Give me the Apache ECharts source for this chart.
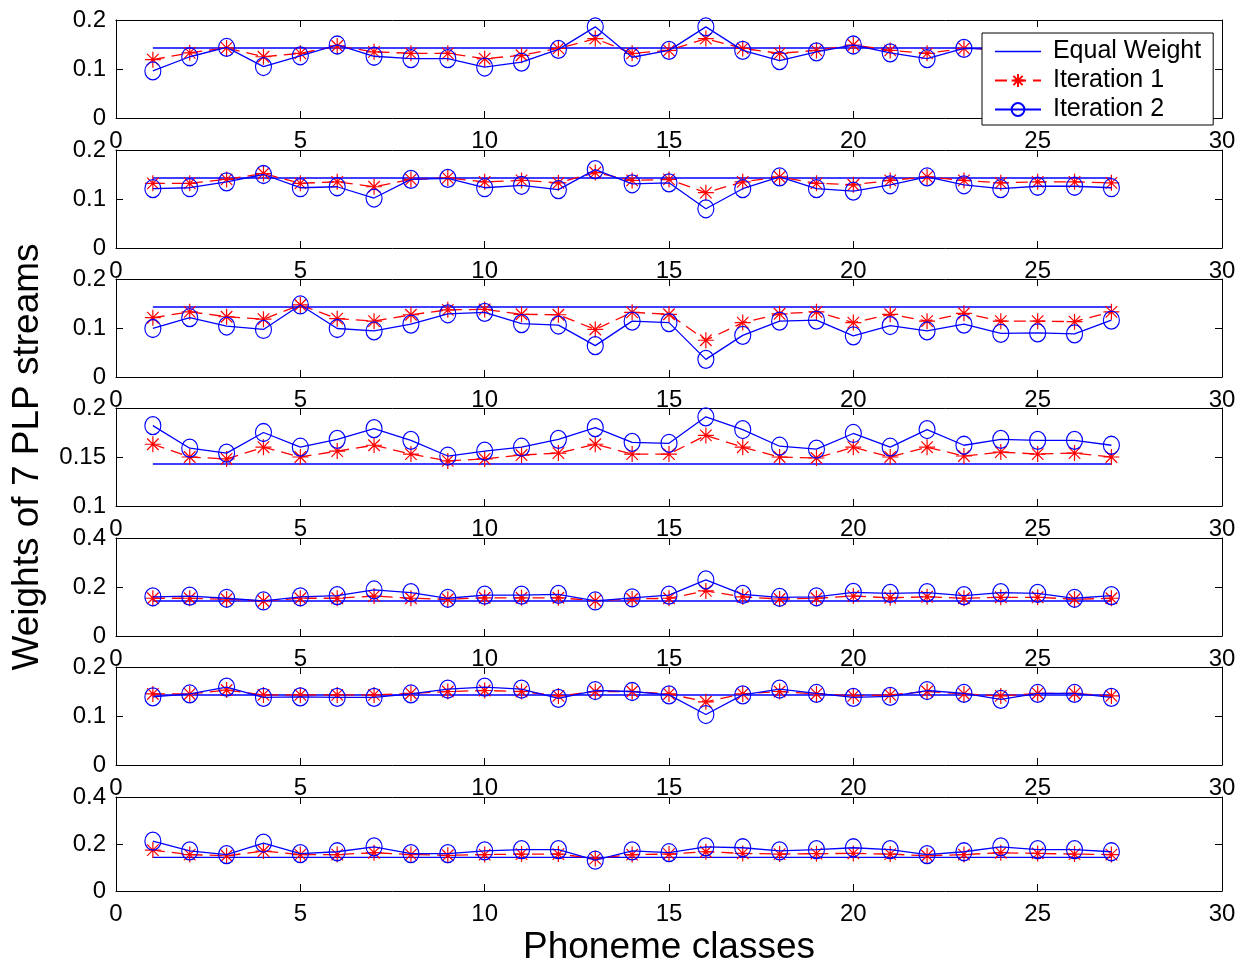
<!DOCTYPE html>
<html>
<head>
<meta charset="utf-8">
<script src="https://cdn.jsdelivr.net/npm/echarts@6/dist/echarts.min.js"></script>
<style>
html,body{margin:0;padding:0;background:#fff;}
#chart{width:1241px;height:967px;}
</style>
</head>
<body>
<div id="chart"></div>
<script>
// Phoneme classes (x values)
const classes = [1,2,3,4,5,6,7,8,9,10,11,12,13,14,15,16,17,18,19,20,21,22,23,24,25,26,27];
const equalWeight = 1/7;
const xTicks = [0,5,10,15,20,25,30];

// Iteration 1 weights, one array per PLP stream (subplot)
const iter1_s1 = [0.119,0.133,0.143,0.125,0.132,0.147,0.135,0.132,0.132,0.121,0.128,0.142,0.162,0.132,0.138,0.162,0.142,0.132,0.138,0.149,0.138,0.132,0.142,0.140,0.138,0.140,0.139];
const iter1_s2 = [0.132,0.132,0.140,0.152,0.132,0.135,0.125,0.140,0.143,0.135,0.138,0.133,0.154,0.138,0.140,0.113,0.135,0.145,0.132,0.129,0.138,0.145,0.138,0.133,0.135,0.135,0.133];
const iter1_s3 = [0.121,0.133,0.123,0.118,0.147,0.119,0.114,0.127,0.137,0.138,0.128,0.127,0.097,0.132,0.128,0.075,0.111,0.129,0.133,0.111,0.128,0.114,0.130,0.114,0.114,0.113,0.133];
const iter1_s4 = [0.163,0.150,0.148,0.160,0.150,0.156,0.162,0.153,0.146,0.148,0.152,0.154,0.163,0.153,0.153,0.172,0.160,0.150,0.149,0.160,0.150,0.160,0.151,0.155,0.153,0.154,0.150];
const iter1_s5 = [0.154,0.154,0.150,0.143,0.154,0.154,0.163,0.154,0.150,0.156,0.156,0.156,0.144,0.151,0.154,0.184,0.160,0.151,0.154,0.163,0.156,0.160,0.154,0.158,0.158,0.150,0.154];
const iter1_s6 = [0.145,0.145,0.153,0.143,0.143,0.143,0.143,0.146,0.150,0.152,0.150,0.141,0.150,0.150,0.145,0.129,0.145,0.150,0.145,0.141,0.143,0.150,0.145,0.141,0.146,0.146,0.141];
const iter1_s7 = [0.174,0.155,0.150,0.170,0.155,0.155,0.163,0.155,0.152,0.155,0.157,0.157,0.138,0.155,0.157,0.167,0.160,0.157,0.159,0.160,0.157,0.150,0.155,0.163,0.160,0.157,0.155];

// Iteration 2 weights
const iter2_s1 = [0.096,0.125,0.144,0.105,0.127,0.149,0.126,0.121,0.121,0.104,0.114,0.140,0.186,0.124,0.138,0.186,0.138,0.117,0.135,0.149,0.133,0.121,0.142,0.140,0.136,0.138,0.137];
const iter2_s2 = [0.121,0.123,0.135,0.150,0.123,0.125,0.102,0.140,0.142,0.123,0.128,0.119,0.160,0.131,0.133,0.080,0.121,0.145,0.121,0.116,0.129,0.145,0.129,0.121,0.126,0.126,0.123];
const iter2_s3 = [0.099,0.121,0.104,0.097,0.147,0.099,0.094,0.108,0.129,0.132,0.109,0.106,0.064,0.114,0.111,0.036,0.085,0.114,0.116,0.084,0.105,0.094,0.108,0.089,0.090,0.088,0.116];
const iter2_s4 = [0.182,0.159,0.154,0.175,0.160,0.168,0.179,0.167,0.151,0.156,0.160,0.168,0.180,0.165,0.164,0.191,0.178,0.161,0.158,0.174,0.160,0.178,0.162,0.168,0.167,0.167,0.162];
const iter2_s5 = [0.160,0.163,0.154,0.143,0.160,0.165,0.188,0.177,0.154,0.167,0.167,0.170,0.143,0.156,0.167,0.229,0.170,0.158,0.160,0.178,0.174,0.177,0.165,0.177,0.174,0.154,0.165];
const iter2_s6 = [0.139,0.145,0.159,0.138,0.139,0.138,0.138,0.145,0.155,0.159,0.155,0.136,0.152,0.150,0.143,0.103,0.143,0.155,0.146,0.138,0.140,0.152,0.146,0.134,0.146,0.146,0.138];
const iter2_s7 = [0.212,0.171,0.155,0.204,0.159,0.167,0.188,0.159,0.159,0.171,0.176,0.176,0.131,0.171,0.163,0.188,0.184,0.171,0.176,0.184,0.176,0.155,0.167,0.188,0.176,0.176,0.167];

// y-axis ranges per subplot [min, max, interval]
const yRanges = [[0,0.2,0.1],[0,0.2,0.1],[0,0.2,0.1],[0.1,0.2,0.05],[0,0.4,0.2],[0,0.2,0.1],[0,0.4,0.2]];

const iter1 = [iter1_s1,iter1_s2,iter1_s3,iter1_s4,iter1_s5,iter1_s6,iter1_s7];
const iter2 = [iter2_s1,iter2_s2,iter2_s3,iter2_s4,iter2_s5,iter2_s6,iter2_s7];

const FONT = '"Liberation Sans", Arial, Helvetica, sans-serif';
const BLUE = '#0000ff', RED = '#ff0000';
const STAR = 'path://M0,-1L0,1M-1,0L1,0M-0.72,-0.72L0.72,0.72M-0.72,0.72L0.72,-0.72';
const LINE_ICON = 'path://M0,0H46V1.4H0Z';

const tops = [20,150,279,408,538,667,797];
const H = 98;

const grids = [], xAxes = [], yAxes = [], series = [];
tops.forEach((t, i) => {
  grids.push({left:116, right:19, top:t, height:H, containLabel:false});
  const isLast = i === tops.length - 1;
  xAxes.push({
    type:'value', gridIndex:i, position:'bottom', min:0, max:30, interval:5,
    axisLine:{show:true, onZero:false, lineStyle:{color:'#000', width:1}},
    axisTick:{show:true, inside:true, length:7, lineStyle:{color:'#000'}},
    axisLabel:{show:true, color:'#000', fontSize:24, fontFamily:FONT, margin:11},
    splitLine:{show:false},
    name: isLast ? 'Phoneme classes' : '',
    nameLocation:'middle', nameGap:38,
    nameTextStyle:{color:'#000', fontSize:37, fontFamily:FONT}
  });
  xAxes.push({
    type:'value', gridIndex:i, position:'top', min:0, max:30, interval:5,
    axisLine:{show:true, onZero:false, lineStyle:{color:'#000', width:1}},
    axisTick:{show:true, inside:true, length:7, lineStyle:{color:'#000'}},
    axisLabel:{show:false}, splitLine:{show:false}
  });
  const r = yRanges[i];
  yAxes.push({
    type:'value', gridIndex:i, position:'left', min:r[0], max:r[1], interval:r[2],
    axisLine:{show:true, onZero:false, lineStyle:{color:'#000', width:1}},
    axisTick:{show:true, inside:true, length:7, lineStyle:{color:'#000'}},
    axisLabel:{show:true, color:'#000', fontSize:24, fontFamily:FONT, margin:10},
    splitLine:{show:false},
    name: i === 3 ? 'Weights of 7 PLP streams' : '',
    nameLocation:'middle', nameGap:70, nameRotate:90,
    nameTextStyle:{color:'#000', fontSize:37, fontFamily:FONT}
  });
  yAxes.push({
    type:'value', gridIndex:i, position:'right', min:r[0], max:r[1], interval:r[2],
    axisLine:{show:true, onZero:false, lineStyle:{color:'#000', width:1}},
    axisTick:{show:true, inside:true, length:7, lineStyle:{color:'#000'}},
    axisLabel:{show:false}, splitLine:{show:false}
  });
  const xi = 2*i, yi = 2*i;
  series.push({
    name:'Equal Weight', type:'line', xAxisIndex:xi, yAxisIndex:yi,
    data: classes.map(c => [c, equalWeight]),
    showSymbol:false, symbol:'none', color:BLUE,
    lineStyle:{color:BLUE, width:1.3}, silent:true, animation:false, z:2
  });
  series.push({
    name:'Iteration 1', type:'line', xAxisIndex:xi, yAxisIndex:yi,
    data: classes.map((c, k) => [c, iter1[i][k]]),
    symbol:STAR, symbolSize:16, color:RED,
    itemStyle:{color:RED, borderColor:RED, borderWidth:1.2},
    lineStyle:{color:RED, width:1.3, type:[12,7]}, animation:false, z:3
  });
  series.push({
    name:'Iteration 2', type:'line', xAxisIndex:xi, yAxisIndex:yi,
    data: classes.map((c, k) => [c, iter2[i][k]]),
    symbol:'circle', symbolSize:[16,18], color:BLUE,
    itemStyle:{color:'rgba(0,0,0,0)', borderColor:BLUE, borderWidth:1.2},
    lineStyle:{color:BLUE, width:1.3}, animation:false, z:4
  });
});

const chart = echarts.init(document.getElementById('chart'), null, {renderer:'canvas'});
chart.setOption({
  backgroundColor:'#fff',
  animation:false,
  textStyle:{fontFamily:FONT},
  grid:grids, xAxis:xAxes, yAxis:yAxes, series:series,
  legend:{
    data:[
      {name:'Equal Weight', icon:LINE_ICON, itemStyle:{color:BLUE, borderWidth:0}},
      {name:'Iteration 1'},
      {name:'Iteration 2'}
    ],
    formatter: name => ' ' + name,
    orient:'vertical', left:982, top:33,
    backgroundColor:'#fff', borderColor:'#000', borderWidth:1,
    padding:[6,12,3,12], itemGap:4, itemWidth:46, itemHeight:16,
    symbolKeepAspect:true,
    textStyle:{color:'#000', fontSize:25, fontFamily:FONT},
    z:20, selectedMode:false
  }
});
</script>
</body>
</html>
